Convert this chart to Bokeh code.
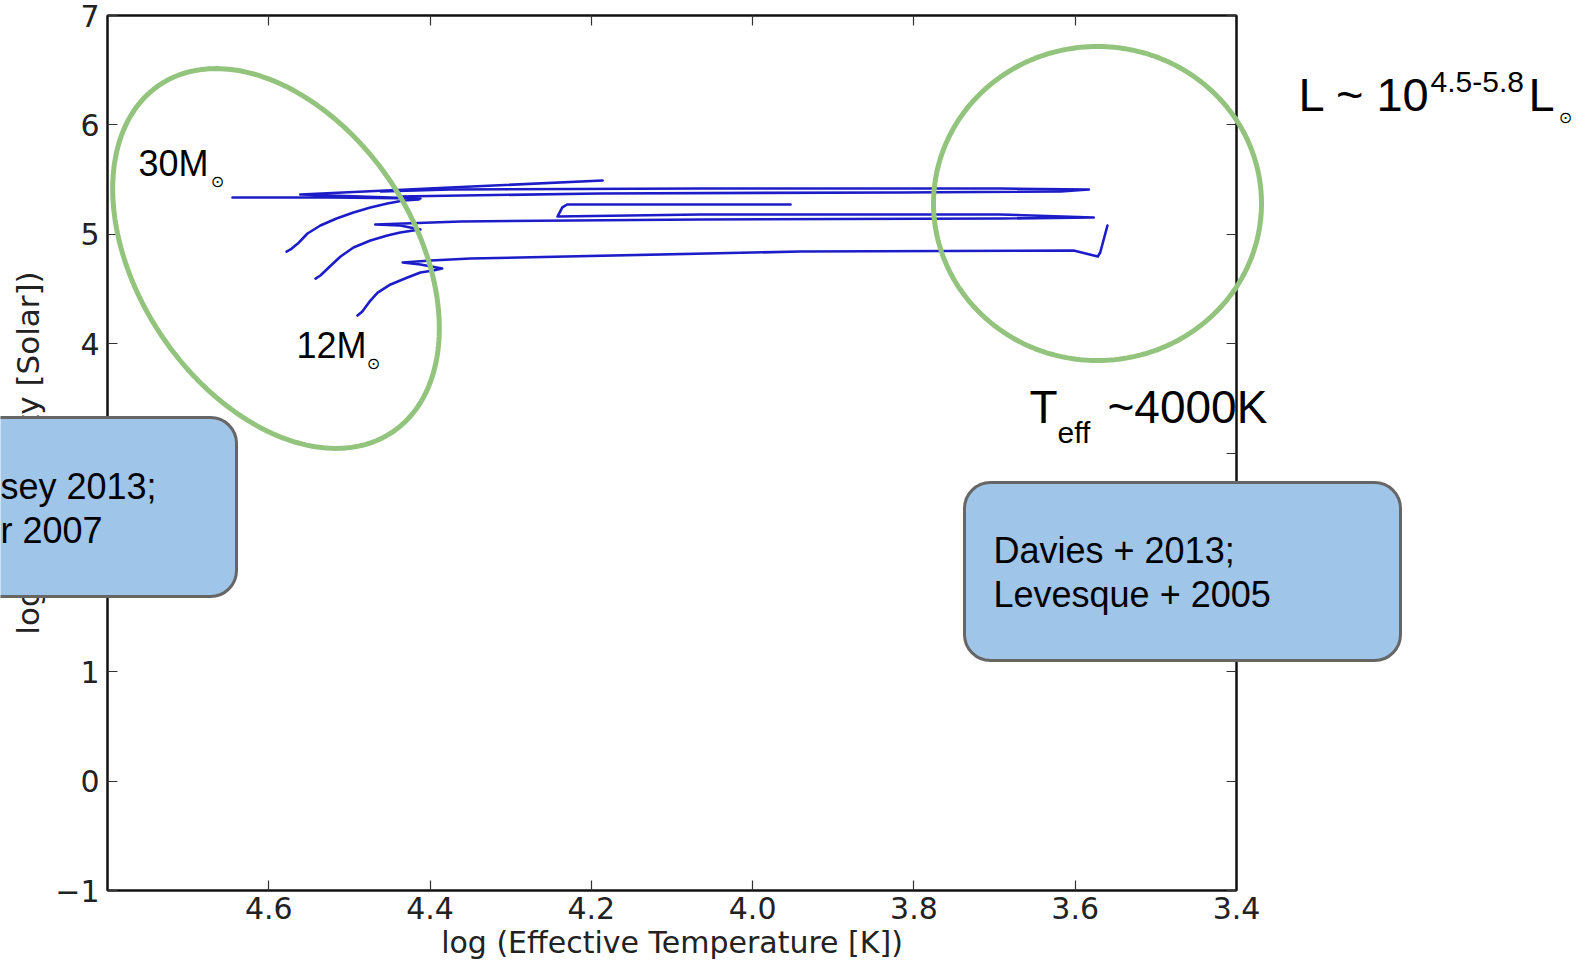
import numpy as np
from bokeh.plotting import figure
from bokeh.models import (Range1d, FixedTicker, LinearAxis, Label, BoxAnnotation,
                          PolyAnnotation, NumeralTickFormatter, CustomJSTickFormatter, GridBox)
from bokeh.embed import file_html
from bokeh.resources import INLINE

# ---------------- data (log Teff, log L) ----------------
track_30_logT = [4.645, 4.523, 4.412, 4.561, 4.375, 4.186]
track_30_logL = [5.336, 5.336, 5.327, 5.363, 5.427, 5.491]

track_25_logT = [4.578, 4.573, 4.564, 4.552, 4.536, 4.516, 4.495, 4.474, 4.453, 4.433,
                 4.414, 4.439, 4.189, 3.817, 3.618, 3.583, 3.693, 4.065, 4.375, 4.461]
track_25_logL = [4.842, 4.861, 4.915, 5.007, 5.080, 5.144, 5.199, 5.245, 5.281, 5.309,
                 5.318, 5.345, 5.373, 5.382, 5.391, 5.409, 5.418, 5.418, 5.409, 5.391]

track_20_logT = [4.542, 4.536, 4.523, 4.511, 4.495, 4.474, 4.453, 4.437, 4.421, 4.412,
                 4.437, 4.468, 4.362, 4.065, 3.693, 3.577, 3.693, 4.065, 4.242, 4.236,
                 4.230, 3.953]
track_20_logL = [4.595, 4.623, 4.714, 4.797, 4.879, 4.943, 4.989, 5.016, 5.034, 5.043,
                 5.080, 5.089, 5.117, 5.135, 5.144, 5.153, 5.181, 5.181, 5.162, 5.245,
                 5.272, 5.272]

track_12_logT = [4.490, 4.484, 4.474, 4.465, 4.449, 4.428, 4.412, 4.396, 4.385, 4.412,
                 4.434, 4.399, 4.350, 3.941, 3.602, 3.572, 3.569, 3.560]
track_12_logL = [4.257, 4.294, 4.394, 4.467, 4.541, 4.605, 4.650, 4.669, 4.687, 4.723,
                 4.742, 4.760, 4.778, 4.842, 4.851, 4.797, 4.833, 5.080]

x_ticks = [4.6, 4.4, 4.2, 4.0, 3.8, 3.6, 3.4]
y_ticks = [-1, 0, 1, 2, 3, 4, 5, 6, 7]

# ---------------- layout ----------------
W, H = 1593, 964
FL, FT, FR, FB = 107, 15, 357, 74
X0, X1 = 4.8, 3.4
Y0, Y1 = -1.0, 7.0

p = figure(width=W, height=H, x_range=Range1d(X0, X1), y_range=Range1d(Y0, Y1),
           output_backend="svg", toolbar_location=None,
           min_border_left=FL, min_border_right=FR, min_border_top=FT, min_border_bottom=FB,
           x_axis_location="below", y_axis_location="left")
p.frame_align = False
p.grid.visible = False
p.outline_line_color = "#111111"
p.outline_line_width = 2
p.background_fill_color = "white"
p.border_fill_color = "white"

TICK_FONT = "DejaVu Sans"

xa = p.xaxis[0]
xa.ticker = FixedTicker(ticks=x_ticks)
xa.formatter = NumeralTickFormatter(format="0.0")
ya = p.yaxis[0]
ya.ticker = FixedTicker(ticks=y_ticks)
ya.major_label_overrides = {-1: "\u22121"}

for ax in (xa, ya):
    ax.major_tick_in = 10
    ax.major_tick_out = 0
    ax.minor_tick_line_color = None
    ax.axis_line_width = 2
    ax.axis_line_color = "#111111"
    ax.major_tick_line_width = 1.2
    ax.major_tick_line_color = "#333333"
    ax.major_label_text_font = TICK_FONT
    ax.major_label_text_font_size = "30px"
    ax.major_label_text_color = "#222222"
    ax.axis_label_text_font = TICK_FONT
    ax.axis_label_text_font_size = "30px"
    ax.axis_label_text_font_style = "normal"
    ax.axis_label_text_color = "#222222"

xa.axis_label = "log (Effective Temperature [K])"
xa.major_label_standoff = 6
xa.axis_label_standoff = 3
ya.axis_label = "log (Luminosity [Solar])"
ya.axis_label_text_font_size = "31px"
ya.major_label_standoff = 8
ya.axis_label_standoff = 6

blank = CustomJSTickFormatter(code="return ''")
top_ax = LinearAxis(ticker=FixedTicker(ticks=x_ticks), formatter=blank)
right_ax = LinearAxis(ticker=FixedTicker(ticks=y_ticks), formatter=blank)
for ax in (top_ax, right_ax):
    ax.major_tick_in = 10
    ax.major_tick_out = 0
    ax.minor_tick_line_color = None
    ax.axis_line_width = 2
    ax.axis_line_color = "#111111"
    ax.major_tick_line_width = 1.2
    ax.major_tick_line_color = "#333333"
    ax.major_label_standoff = 0
    ax.major_label_text_font_size = "1px"
p.add_layout(top_ax, "above")
p.add_layout(right_ax, "right")

# ---------------- tracks ----------------
TRACK_COLOR = "#1c1cc8"
for t, l in [(track_30_logT, track_30_logL), (track_25_logT, track_25_logL),
             (track_20_logT, track_20_logL), (track_12_logT, track_12_logL)]:
    p.line(t, l, line_color=TRACK_COLOR, line_width=2.6, line_join="round", line_cap="round")

# ---------------- overlay (page-pixel coordinates) for slide annotations ----------------
ov = figure(width=W, height=H, x_range=Range1d(0, W), y_range=Range1d(H, 0),
            output_backend="svg", toolbar_location=None,
            x_axis_location=None, y_axis_location=None,
            min_border_left=0, min_border_right=0, min_border_top=0, min_border_bottom=0)
ov.frame_align = False
ov.grid.grid_line_color = None
ov.outline_line_color = None
ov.background_fill_color = None
ov.border_fill_color = None


def ellipse_pts(cx, cy, a, b, theta_deg, n=240):
    tt = np.linspace(0, 2 * np.pi, n, endpoint=False)
    th = np.radians(theta_deg)
    px = cx + a * np.cos(tt) * np.cos(th) - b * np.sin(tt) * np.sin(th)
    py = cy + a * np.cos(tt) * np.sin(th) + b * np.sin(tt) * np.cos(th)
    return [float(v) for v in px], [float(v) for v in py]


GREEN = "#93c47d"
for (cx, cy, a, b, th) in [(275.5, 258, 209, 138, 56.2), (1097, 203, 164, 157, 0)]:
    exs, eys = ellipse_pts(cx, cy, a, b, th)
    ov.add_layout(PolyAnnotation(xs=exs, ys=eys, fill_color=None, fill_alpha=0,
                                 line_color=GREEN, line_width=5, line_alpha=1))

BOX_FILL = "#9fc5e8"
BOX_LINE = "#666666"
for (l, r, t, b) in [(-300, 236, 417, 596), (964, 1400, 482, 660)]:
    ov.add_layout(BoxAnnotation(left=l, right=r, top=t, bottom=b,
                                fill_color=BOX_FILL, fill_alpha=1,
                                line_color=BOX_LINE, line_width=3, line_alpha=1,
                                border_radius=26))

SANS = "Liberation Sans"


def lab(text, px, py, size, font=SANS):
    # py is the wanted baseline; shift for Bokeh's text box placement
    ov.add_layout(Label(x=px, y=py - 0.36 * size, text=text, text_font=font,
                        text_font_size=f"{size}px", text_align="left",
                        text_baseline="alphabetic", text_color="black"))


def sun(px, py, size=16):
    ov.add_layout(Label(x=px, y=py, text="\u2299", text_font="DejaVu Sans",
                        text_font_size=f"{size}px", text_align="center",
                        text_baseline="middle", text_color="black"))


lab("30M", 138, 176, 36)
sun(217, 181)
lab("12M", 296, 358, 36)
sun(373, 363)

lab("L ~ 10", 1298, 111, 47)
lab("4.5-5.8", 1430, 92, 30)
lab("L", 1528, 111, 47)
sun(1565, 117)

lab("T", 1029, 423, 46)
lab("eff", 1057, 443, 30)
lab("~4000K", 1107, 423, 46)

lab("Davies + 2013;", 993, 563, 36)
lab("Levesque + 2005", 993, 607, 36)
lab("sey 2013;", 0, 499, 36)
lab("r 2007", 0, 543, 36)

layout = GridBox(children=[(p, 0, 0), (ov, 0, 0)], spacing=0)

open("out.html", "w").write(file_html(layout, INLINE))
